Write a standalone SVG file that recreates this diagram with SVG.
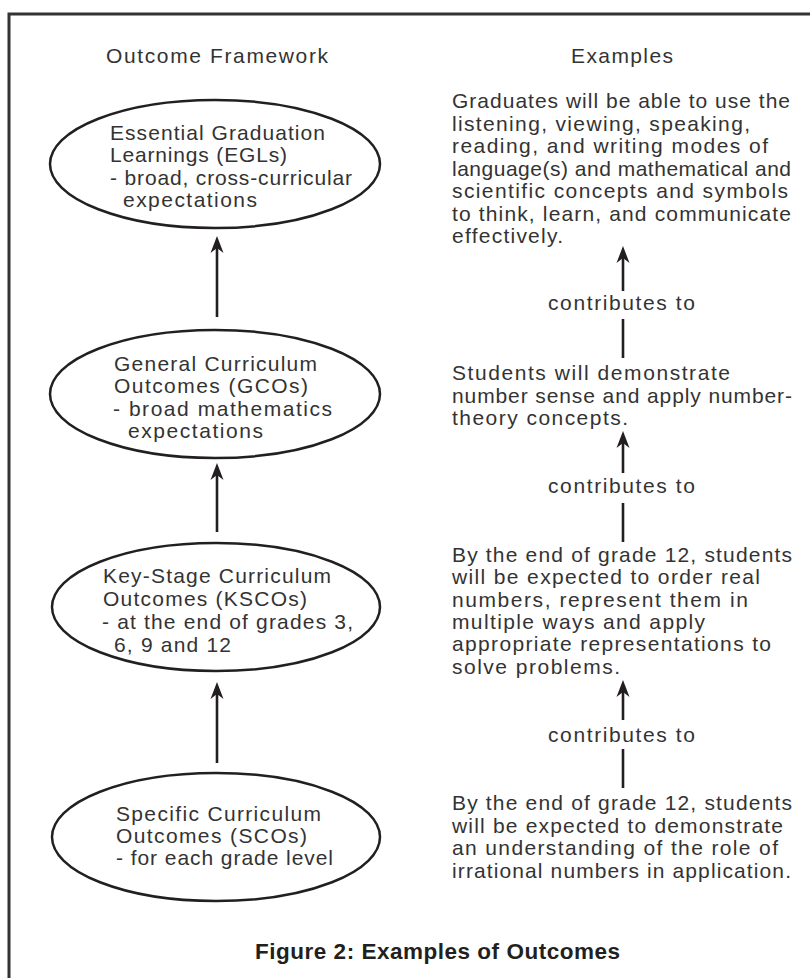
<svg xmlns="http://www.w3.org/2000/svg" xmlns:xlink="http://www.w3.org/1999/xlink" width="810" height="978" viewBox="0 0 810 978">
<style>
  .t { font-family: "Liberation Sans", Arial, sans-serif; font-size: 21px; fill: #333333; }
  .cap { font-family: "Liberation Sans", Arial, sans-serif; font-size: 22.5px; font-weight: bold; fill: #231f20; }
  .node ellipse { fill: #ffffff; stroke: #231f20; stroke-width: 2.5; }
  .conn line { stroke: #231f20; stroke-width: 2.6; }
  .conn use { fill: #231f20; }
  .frame { fill: none; stroke: #333333; stroke-width: 3; }
</style>
<defs>
  <path id="ah" d="M0,0 L-6.5,17 L0,12 L6.5,17 Z"/>
</defs>
<rect x="0" y="0" width="810" height="978" fill="#ffffff"/>
<path class="frame" d="M9,978 V14 H810"/>

<g id="headings">
  <text class="t" x="106" y="63" textLength="222" lengthAdjust="spacing">Outcome Framework</text>
  <text class="t" x="571" y="63" textLength="102" lengthAdjust="spacing">Examples</text>
</g>

<g id="node-egl" class="node">
  <ellipse cx="215" cy="164" rx="165" ry="64"/>
  <text class="t" x="110" y="140" textLength="215" lengthAdjust="spacing">Essential Graduation</text>
  <text class="t" x="110" y="162" textLength="177" lengthAdjust="spacing">Learnings (EGLs)</text>
  <text class="t" x="110" y="185" textLength="242" lengthAdjust="spacing">- broad, cross-curricular</text>
  <text class="t" x="123" y="207" textLength="134" lengthAdjust="spacing">expectations</text>
</g>

<g id="node-gco" class="node">
  <ellipse cx="215" cy="394" rx="165" ry="64"/>
  <text class="t" x="114" y="371" textLength="203" lengthAdjust="spacing">General Curriculum</text>
  <text class="t" x="114" y="393" textLength="194" lengthAdjust="spacing">Outcomes (GCOs)</text>
  <text class="t" x="113" y="416" textLength="219" lengthAdjust="spacing">- broad mathematics</text>
  <text class="t" x="128" y="438" textLength="135" lengthAdjust="spacing">expectations</text>
</g>

<g id="node-ksco" class="node">
  <ellipse cx="216" cy="607" rx="164" ry="64"/>
  <text class="t" x="103" y="583" textLength="228" lengthAdjust="spacing">Key-Stage Curriculum</text>
  <text class="t" x="103" y="606" textLength="204" lengthAdjust="spacing">Outcomes (KSCOs)</text>
  <text class="t" x="102" y="629" textLength="251" lengthAdjust="spacing">- at the end of grades 3,</text>
  <text class="t" x="114" y="652" textLength="117" lengthAdjust="spacing">6, 9 and 12</text>
</g>

<g id="node-sco" class="node">
  <ellipse cx="216" cy="837" rx="164" ry="64"/>
  <text class="t" x="116" y="821" textLength="205" lengthAdjust="spacing">Specific Curriculum</text>
  <text class="t" x="116" y="843" textLength="191" lengthAdjust="spacing">Outcomes (SCOs)</text>
  <text class="t" x="116" y="865" textLength="217" lengthAdjust="spacing">- for each grade level</text>
</g>

<g id="ex-egl">
  <text class="t" x="452" y="108" textLength="338" lengthAdjust="spacing">Graduates will be able to use the</text>
  <text class="t" x="452" y="130.5" textLength="298" lengthAdjust="spacing">listening, viewing, speaking,</text>
  <text class="t" x="452" y="153" textLength="316" lengthAdjust="spacing">reading, and writing modes of</text>
  <text class="t" x="452" y="175.5" textLength="339" lengthAdjust="spacing">language(s) and mathematical and</text>
  <text class="t" x="452" y="198" textLength="336" lengthAdjust="spacing">scientific concepts and symbols</text>
  <text class="t" x="452" y="220.5" textLength="339" lengthAdjust="spacing">to think, learn, and communicate</text>
  <text class="t" x="452" y="243" textLength="111" lengthAdjust="spacing">effectively.</text>
</g>

<g id="ex-gco">
  <text class="t" x="452" y="380" textLength="278" lengthAdjust="spacing">Students will demonstrate</text>
  <text class="t" x="452" y="402.5" textLength="340" lengthAdjust="spacing">number sense and apply number-</text>
  <text class="t" x="452" y="425" textLength="176" lengthAdjust="spacing">theory concepts.</text>
</g>

<g id="ex-ksco">
  <text class="t" x="452" y="562" textLength="340" lengthAdjust="spacing">By the end of grade 12, students</text>
  <text class="t" x="452" y="584.3" textLength="308" lengthAdjust="spacing">will be expected to order real</text>
  <text class="t" x="452" y="606.6" textLength="296" lengthAdjust="spacing">numbers, represent them in</text>
  <text class="t" x="452" y="628.9" textLength="253" lengthAdjust="spacing">multiple ways and apply</text>
  <text class="t" x="452" y="651.2" textLength="319" lengthAdjust="spacing">appropriate representations to</text>
  <text class="t" x="452" y="673.5" textLength="168" lengthAdjust="spacing">solve problems.</text>
</g>

<g id="ex-sco">
  <text class="t" x="452" y="810" textLength="340" lengthAdjust="spacing">By the end of grade 12, students</text>
  <text class="t" x="452" y="832.5" textLength="331" lengthAdjust="spacing">will be expected to demonstrate</text>
  <text class="t" x="452" y="855" textLength="326" lengthAdjust="spacing">an understanding of the role of</text>
  <text class="t" x="452" y="877.5" textLength="339" lengthAdjust="spacing">irrational numbers in application.</text>
</g>

<g id="connectors" class="conn">
  <line x1="217" y1="317" x2="217" y2="246"/>
  <use xlink:href="#ah" x="217" y="236"/>
  <line x1="217" y1="532" x2="217" y2="473"/>
  <use xlink:href="#ah" x="217" y="463"/>
  <line x1="217" y1="763" x2="217" y2="692"/>
  <use xlink:href="#ah" x="217" y="682"/>

  <line x1="623" y1="291" x2="623" y2="256"/>
  <use xlink:href="#ah" x="623" y="246"/>
  <line x1="623" y1="319" x2="623" y2="358"/>
  <line x1="623" y1="473" x2="623" y2="441"/>
  <use xlink:href="#ah" x="623" y="431"/>
  <line x1="623" y1="503" x2="623" y2="542"/>
  <line x1="623" y1="720" x2="623" y2="690"/>
  <use xlink:href="#ah" x="623" y="680"/>
  <line x1="623" y1="749" x2="623" y2="788"/>
</g>

<g id="connector-labels">
  <text class="t" x="548" y="310" textLength="147" lengthAdjust="spacing">contributes to</text>
  <text class="t" x="548" y="493" textLength="147" lengthAdjust="spacing">contributes to</text>
  <text class="t" x="548" y="742" textLength="147" lengthAdjust="spacing">contributes to</text>
</g>

<g id="caption">
  <text class="cap" x="255" y="959" textLength="365" lengthAdjust="spacing">Figure 2: Examples of Outcomes</text>
</g>
</svg>
